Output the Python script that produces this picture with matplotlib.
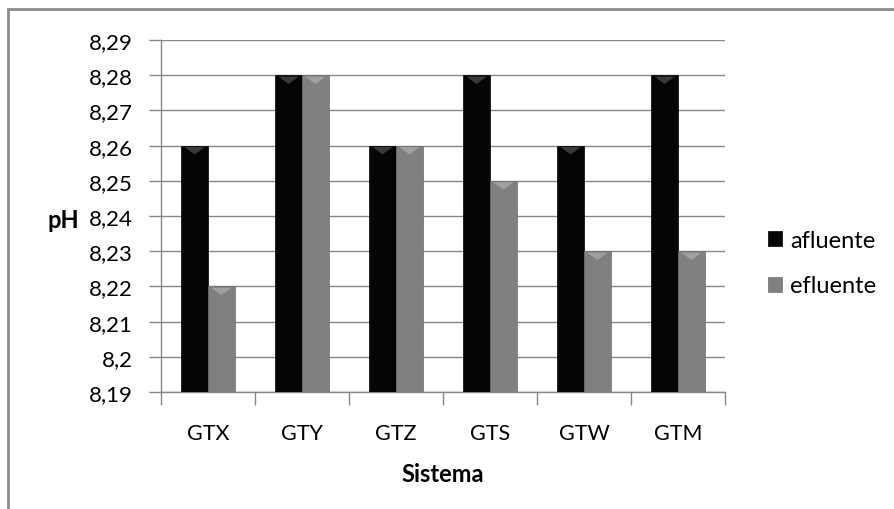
import numpy as np
import matplotlib
matplotlib.use("Agg")
import matplotlib.pyplot as plt
from matplotlib.patches import Rectangle, Polygon

plt.rcParams['font.family'] = ['Lato', 'DejaVu Sans']

sistemas = ["GTX", "GTY", "GTZ", "GTS", "GTW", "GTM"]
afluente = [8.26, 8.28, 8.26, 8.28, 8.26, 8.28]
efluente = [8.22, 8.28, 8.26, 8.25, 8.23, 8.23]
yticks = [8.19, 8.20, 8.21, 8.22, 8.23, 8.24, 8.25, 8.26, 8.27, 8.28, 8.29]
ytick_labels = ["8,19", "8,2", "8,21", "8,22", "8,23", "8,24", "8,25",
                "8,26", "8,27", "8,28", "8,29"]

fig = plt.figure(figsize=(8.95, 5.1), dpi=100)
# moldura externa do gráfico
fig.patches.append(Rectangle((8 / 895, -0.01), 0.995, 1 - 10 / 510 + 0.01,
                             transform=fig.transFigure, fill=False,
                             edgecolor="#8c8c8c", linewidth=2))

ax = fig.add_axes([161 / 895, 1 - 393 / 510, (725 - 161) / 895, (393 - 41) / 510])

x = np.arange(len(sistemas))
w = 0.285
b1 = ax.bar(x - w / 2, np.array(afluente) - 8.19, w, bottom=8.19,
            color="#050505", edgecolor="#000000", linewidth=0.5,
            label="afluente", zorder=3)
b2 = ax.bar(x + w / 2, np.array(efluente) - 8.19, w, bottom=8.19,
            color="#808080", edgecolor="#6e6e6e", linewidth=0.5,
            label="efluente", zorder=3)

# chanfro no topo das barras (estilo Excel)
for bars, tone in [(b1, "#3a3a3a"), (b2, "#a0a0a0")]:
    for r in bars:
        x0, wd = r.get_x(), r.get_width()
        top = r.get_y() + r.get_height()
        d = 0.0025
        ax.add_patch(Polygon([(x0 + wd * 0.12, top - 0.0004),
                              (x0 + wd * 0.88, top - 0.0004),
                              (x0 + wd * 0.5, top - d)],
                             closed=True, color=tone, zorder=4, lw=0))

ax.set_ylim(8.19, 8.29)
ax.set_xlim(-0.5, len(sistemas) - 0.5)
ax.set_yticks(yticks)
ax.set_yticklabels(ytick_labels, fontsize=16)
ax.set_xticks(x)
ax.set_xticklabels(sistemas, fontsize=15.5)
ax.set_xticks(np.arange(len(sistemas) + 1) - 0.5, minor=True)
ax.tick_params(axis="x", which="major", length=0, pad=22)
ax.tick_params(axis="x", which="minor", length=9, color="#868686", width=1)
ax.tick_params(axis="y", length=9, color="#868686", width=1, pad=11)
ax.grid(axis="y", color="#868686", linewidth=1, zorder=0)
for s in ["top", "right"]:
    ax.spines[s].set_visible(False)
for s in ["left", "bottom"]:
    ax.spines[s].set_color("#868686")
    ax.spines[s].set_linewidth(1)

ax.set_xlabel("Sistema", fontsize=17, fontweight="bold", labelpad=14)
fig.text(48 / 895, 1 - 220 / 510, "pH", fontsize=17, fontweight="bold",
         ha="left", va="center")

fig.legend(loc="center left", bbox_to_anchor=(768 / 895, 1 - 264 / 510),
           frameon=False, fontsize=17, handlelength=0.6, handleheight=0.6,
           handletextpad=0.35, labelspacing=1.05, borderpad=0,
           borderaxespad=0)

fig.savefig("out.png", dpi=100)
